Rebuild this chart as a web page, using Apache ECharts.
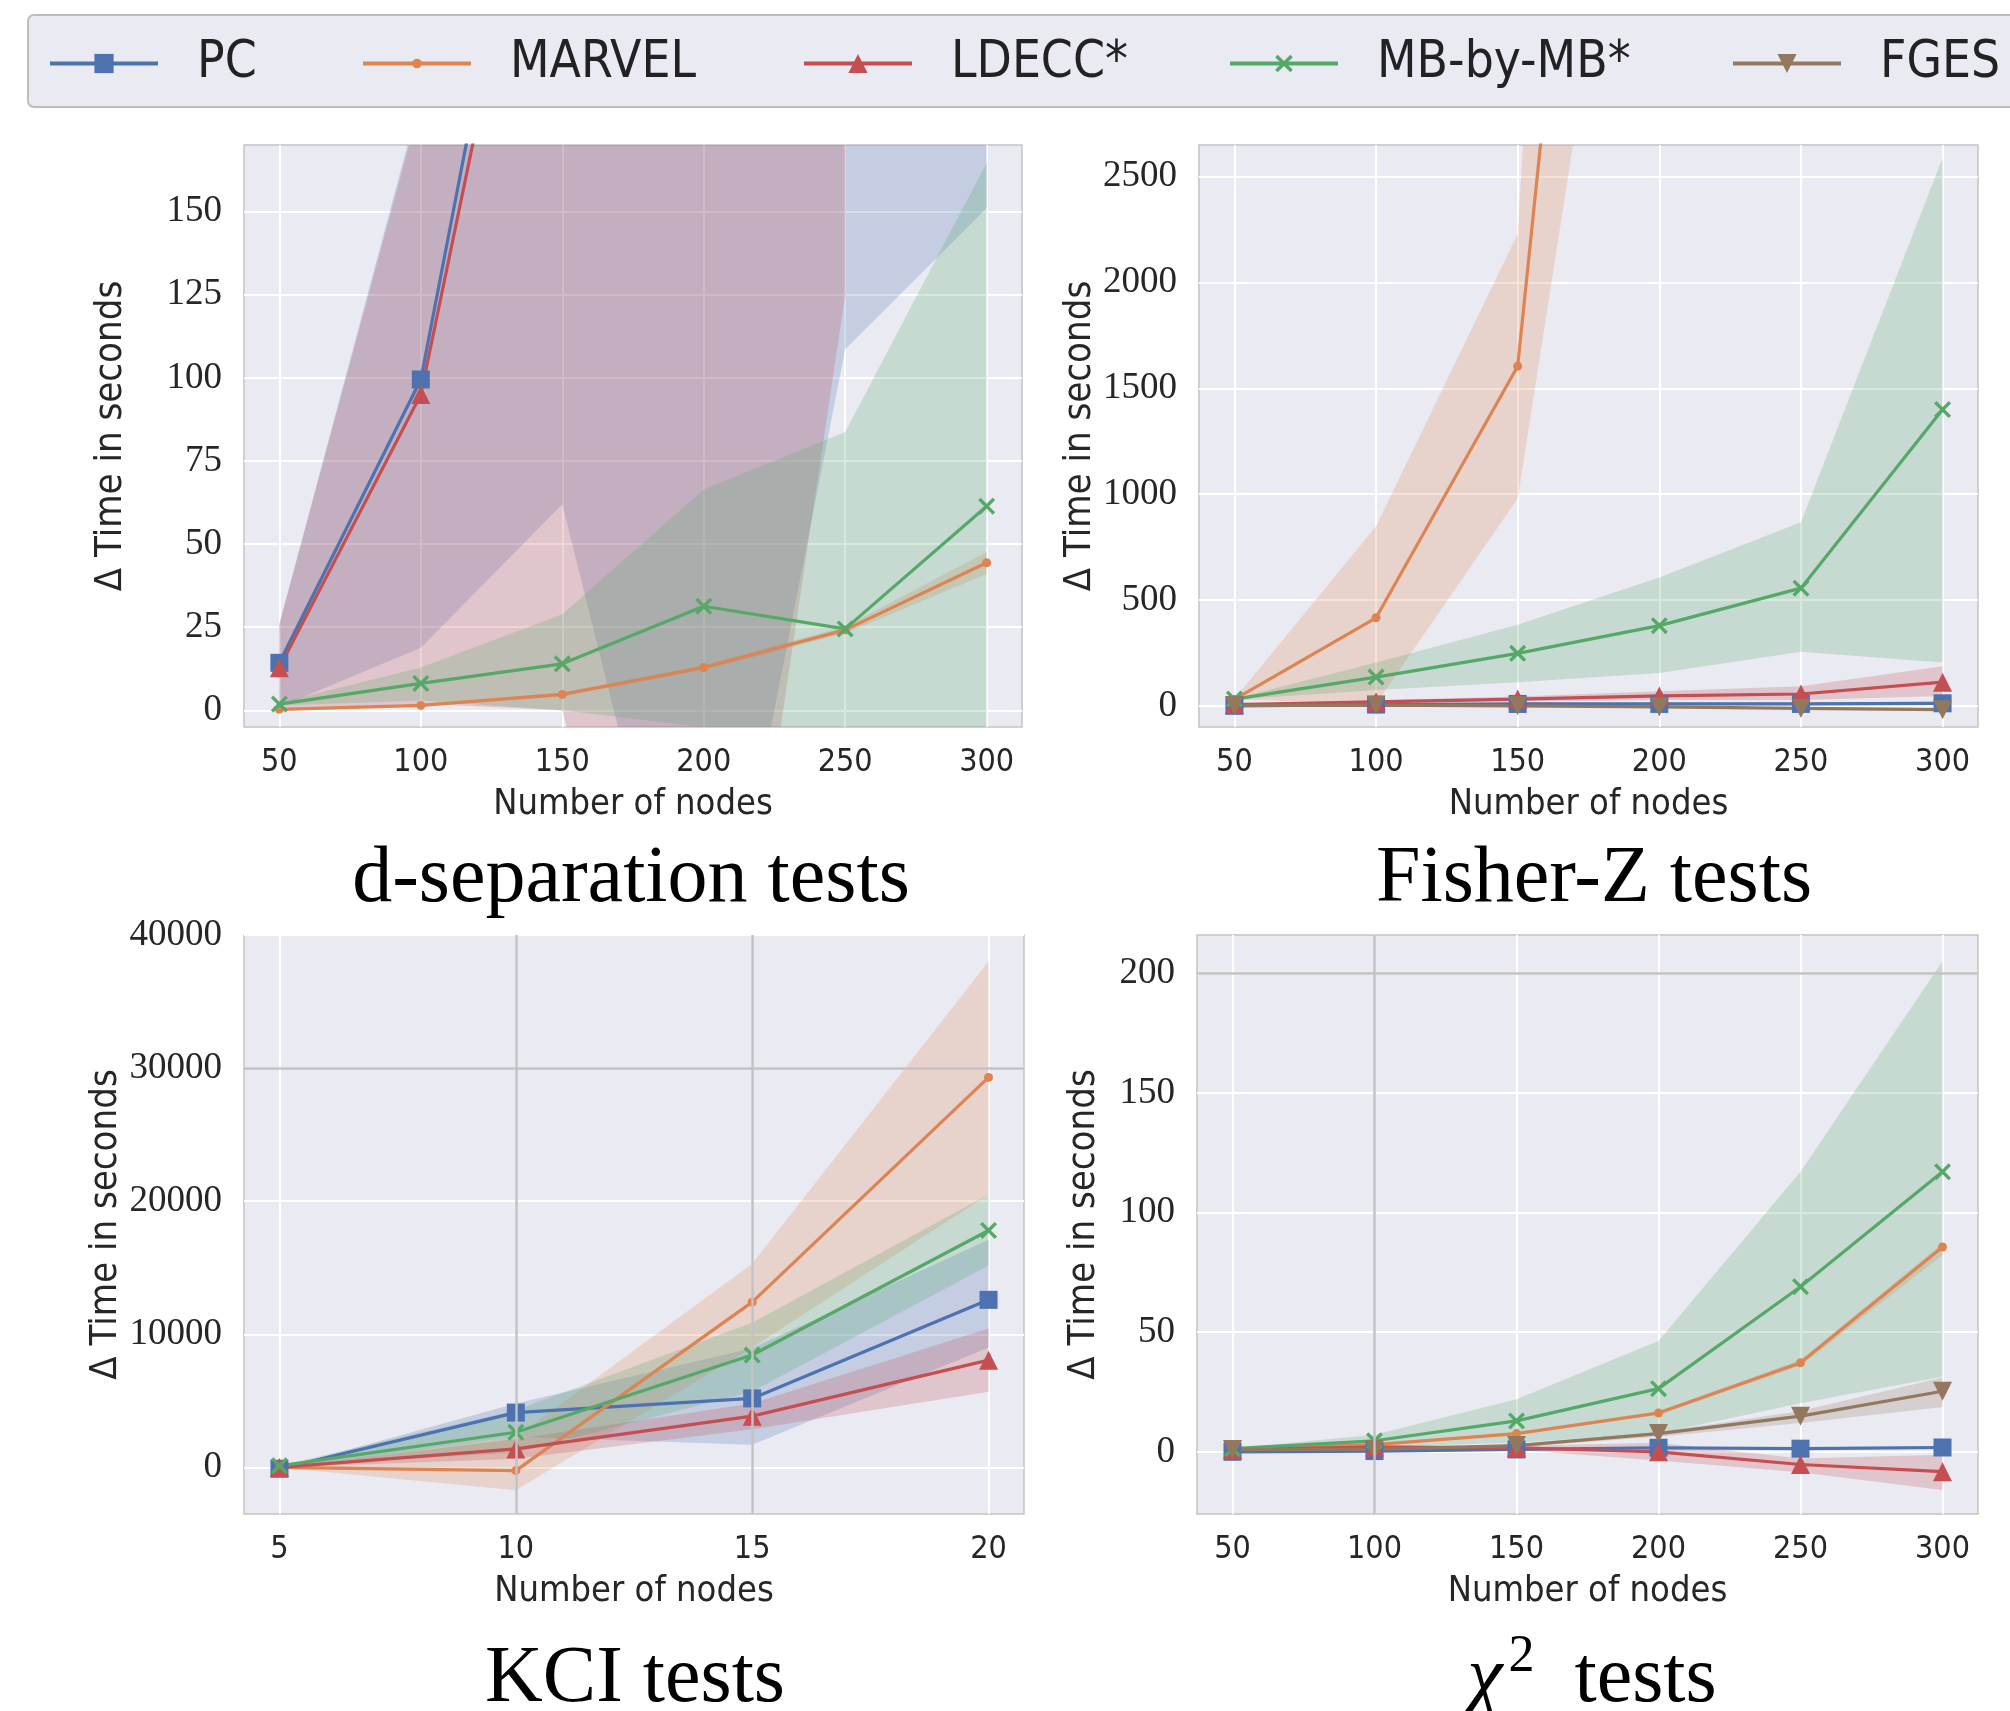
<!DOCTYPE html>
<html>
<head>
<meta charset="utf-8">
<script src="https://cdn.jsdelivr.net/npm/echarts@6/dist/echarts.min.js"></script>
<style>
  html, body { margin: 0; padding: 0; background: #fff; }
  #main { width: 2010px; height: 1711px; }
</style>
</head>
<body>
<div id="main"></div>
<script>
// x values
var nodes = [50, 100, 150, 200, 250, 300];
var nodesKCI = [5, 10, 15, 20];

// d-separation tests (mean, lower, upper)
var dsepPC = [14.3, 99.5, 320, 560, 800, 1100];
var dsepPCLo = [1, 18.8, 62, -108, 108.6, 151];
var dsepPCHi = [26, 185, 600, 1100, 1500, 2100];
var dsepMARVEL = [0.3, 1.5, 4.8, 12.9, 24.2, 44.4];
var dsepMARVELLo = [0.2, 1.2, 4.2, 12.2, 23.2, 41];
var dsepMARVELHi = [0.4, 1.8, 5.4, 13.6, 25.2, 47.6];
var dsepLDECC = [12.8, 95, 300, 520, 760, null];
var dsepLDECCLo = [0.5, 2, 0, -160, 125, null];
var dsepLDECCHi = [26, 183, 600, 1100, 1400, null];
var dsepMB = [1.9, 8.1, 14, 31.3, 24.5, 61.4];
var dsepMBLo = [1.5, 3, 0, -5, -20, -40];
var dsepMBHi = [2.3, 12.9, 28.9, 66.4, 83.7, 164.6];

// Fisher-Z tests
var fzPC = [0, 6, 9, 9, 9, 12];
var fzPCLo = [-3, 2, 4, 3, 2, 4];
var fzPCHi = [3, 10, 14, 15, 16, 20];
var fzMARVEL = [30, 416, 1605, 8100, null, null];
var fzMARVELLo = [30, 10, 980, 5260, null, null];
var fzMARVELHi = [32, 849, 2230, 13500, null, null];
var fzLDECC = [6, 19, 32, 47, 56, 112];
var fzLDECCLo = [4, 12, 20, 28, 28, 47];
var fzLDECCHi = [8, 26, 44, 69, 93, 187];
var fzMB = [32, 136, 248, 379, 556, 1400];
var fzMBLo = [30, 75, 112, 155, 256, 205];
var fzMBHi = [34, 205, 383, 606, 868, 2588];
var fzFGES = [2, 3, 0, -5, -12, -18];
var fzFGESLo = [0, 1, -3, -9, -17, -24];
var fzFGESHi = [4, 5, 3, -1, -7, -12];

// KCI tests
var kciPC = [-100, 4120, 5185, 12590];
var kciPCLo = [-100, 2300, 1700, 9000];
var kciPCHi = [-100, 4800, 8950, 17100];
var kciMARVEL = [0, -240, 12415, 29300];
var kciMARVELLo = [0, -1720, 9000, 20500];
var kciMARVELHi = [0, 2280, 15300, 38000];
var kciLDECC = [0, 1390, 3850, 8060];
var kciLDECCLo = [0, 650, 2870, 5690];
var kciLDECCHi = [0, 2130, 4800, 10430];
var kciMB = [120, 2640, 8445, 17800];
var kciMBLo = [120, 1100, 5700, 15170];
var kciMBHi = [120, 4300, 10870, 20500];

// chi-square tests
var chiPC = [0, 0.3, 1, 1.7, 1.3, 1.8];
var chiPCLo = [-0.3, 0, 0.6, 1.2, 0.8, 1.2];
var chiPCHi = [0.3, 0.6, 1.4, 2.2, 1.8, 2.4];
var chiMARVEL = [1, 3, 7.6, 16.2, 37.2, 85.6];
var chiMARVELLo = [0.8, 2.6, 7, 15.4, 36, 82.3];
var chiMARVELHi = [1.2, 3.4, 8.2, 17, 38.4, 87.2];
var chiLDECC = [1, 2, 1.7, 0, -5.3, -8.3];
var chiLDECCLo = [0.5, 1.2, 0.8, -3.6, -8.6, -16];
var chiLDECCHi = [1.5, 2.8, 2.5, 3.8, -2.8, -1.2];
var chiMB = [1.3, 4.6, 12.9, 26.4, 69, 117];
var chiMBLo = [1, 2, 3.8, 7.6, 20.3, 31.4];
var chiMBHi = [1.5, 7.1, 22, 46.3, 117, 205];
var chiFGES = [1, 1, 2.6, 7.6, 14.9, 25.3];
var chiFGESLo = [0.8, 0.8, 2, 6.3, 12, 18.7];
var chiFGESHi = [1.2, 1.2, 3.2, 8.3, 17, 31];

// tick labels
var ticksNodes = [50, 100, 150, 200, 250, 300];
var ticksKCI = [5, 10, 15, 20];
var ticksDsep = [0, 25, 50, 75, 100, 125, 150];
var ticksFz = [0, 500, 1000, 1500, 2000, 2500];
var ticksKciY = [0, 10000, 20000, 30000, 40000];
var ticksChi = [0, 50, 100, 150, 200];

// darker grey grid lines left over in the source figure
var greyKciX = [10, 15];
var greyKciY = [30000];
var greyChiX = [100];
var greyChiY = [200];

var names = ['PC', 'MARVEL', 'LDECC*', 'MB-by-MB*', 'FGES'];
var colors = {
    'PC': '#4C72B0',
    'MARVEL': '#DD8452',
    'LDECC*': '#C44E52',
    'MB-by-MB*': '#55A868',
    'FGES': '#937860'
};
var bandColors = {
    'PC': 'rgba(76,114,176,0.24)',
    'MARVEL': 'rgba(221,132,82,0.24)',
    'LDECC*': 'rgba(196,78,82,0.24)',
    'MB-by-MB*': 'rgba(85,168,104,0.24)',
    'FGES': 'rgba(147,120,96,0.24)'
};
var xPath = 'path://M0,1.4L1.4,0L5,3.6L8.6,0L10,1.4L6.4,5L10,8.6L8.6,10L5,6.4L1.4,10L0,8.6L3.6,5Z';
var symbols = {
    'PC': ['rect', 18, 0],
    'MARVEL': ['circle', 9, 0],
    'LDECC*': ['triangle', 19, 0],
    'MB-by-MB*': [xPath, 17, 0],
    'FGES': ['triangle', 19, 180]
};

var sansC = "'DejaVu Sans Condensed', 'Liberation Sans Narrow', 'DejaVu Sans', sans-serif";
var serif = "'Liberation Serif', 'DejaVu Serif', serif";

var panels = [
    {
        grid: { left: 244, top: 145, width: 778, height: 582 },
        xs: nodes, xMin: 37.5, xMax: 312.5, xTicks: ticksNodes,
        yMin: -5, yMax: 170, yTicks: ticksDsep, nameGap: 114,
        lines: {
            'PC': [dsepPC, dsepPCLo, dsepPCHi],
            'MARVEL': [dsepMARVEL, dsepMARVELLo, dsepMARVELHi],
            'LDECC*': [dsepLDECC, dsepLDECCLo, dsepLDECCHi],
            'MB-by-MB*': [dsepMB, dsepMBLo, dsepMBHi]
        }
    },
    {
        grid: { left: 1199, top: 145, width: 779, height: 582 },
        xs: nodes, xMin: 37.5, xMax: 312.5, xTicks: ticksNodes,
        yMin: -100, yMax: 2650, yTicks: ticksFz, nameGap: 96,
        lines: {
            'PC': [fzPC, fzPCLo, fzPCHi],
            'MARVEL': [fzMARVEL, fzMARVELLo, fzMARVELHi],
            'LDECC*': [fzLDECC, fzLDECCLo, fzLDECCHi],
            'MB-by-MB*': [fzMB, fzMBLo, fzMBHi],
            'FGES': [fzFGES, fzFGESLo, fzFGESHi]
        }
    },
    {
        grid: { left: 244, top: 935, width: 780, height: 579 },
        xs: nodesKCI, xMin: 4.25, xMax: 20.75, xTicks: ticksKCI,
        yMin: -3500, yMax: 40000, yTicks: ticksKciY, nameGap: 118,
        greyX: greyKciX, greyY: greyKciY,
        lines: {
            'PC': [kciPC, kciPCLo, kciPCHi],
            'MARVEL': [kciMARVEL, kciMARVELLo, kciMARVELHi],
            'LDECC*': [kciLDECC, kciLDECCLo, kciLDECCHi],
            'MB-by-MB*': [kciMB, kciMBLo, kciMBHi]
        }
    },
    {
        grid: { left: 1197, top: 935, width: 781, height: 579 },
        xs: nodes, xMin: 37.5, xMax: 312.5, xTicks: ticksNodes,
        yMin: -26, yMax: 216, yTicks: ticksChi, nameGap: 94,
        greyX: greyChiX, greyY: greyChiY,
        lines: {
            'PC': [chiPC, chiPCLo, chiPCHi],
            'MARVEL': [chiMARVEL, chiMARVELLo, chiMARVELHi],
            'LDECC*': [chiLDECC, chiLDECCLo, chiLDECCHi],
            'MB-by-MB*': [chiMB, chiMBLo, chiMBHi],
            'FGES': [chiFGES, chiFGESLo, chiFGESHi]
        }
    }
];

function bandSeries(idx, xs, lo, hi, color) {
    return {
        type: 'custom',
        xAxisIndex: idx,
        yAxisIndex: idx,
        z: 2,
        silent: true,
        clip: true,
        data: [[xs[0], lo[0]]],
        renderItem: function (params, api) {
            var up = [], down = [];
            for (var i = 0; i < xs.length; i++) {
                if (lo[i] == null || hi[i] == null) continue;
                up.push(api.coord([xs[i], hi[i]]));
                down.unshift(api.coord([xs[i], lo[i]]));
            }
            var cs = params.coordSys;
            return {
                type: 'group',
                clipPath: { type: 'rect', shape: { x: cs.x, y: cs.y, width: cs.width, height: cs.height } },
                children: [{
                    type: 'polygon',
                    shape: { points: up.concat(down) },
                    style: { fill: color, stroke: null }
                }]
            };
        }
    };
}

function plain(v) { return String(v); }

var grids = [], xAxes = [], yAxes = [], series = [];
panels.forEach(function (p, idx) {
    grids.push({
        left: p.grid.left, top: p.grid.top, width: p.grid.width, height: p.grid.height,
        show: true, backgroundColor: '#EAEAF2', borderColor: '#c4c4c4', borderWidth: 1.5
    });
    xAxes.push({
        type: 'value', gridIndex: idx, min: p.xMin, max: p.xMax,
        name: 'Number of nodes', nameLocation: 'middle', nameGap: 60,
        nameTextStyle: { fontFamily: sansC, fontSize: 36, color: '#262626' },
        axisLine: { show: false },
        axisTick: { show: false, customValues: p.xTicks },
        axisLabel: { customValues: p.xTicks, formatter: plain, margin: 20, fontFamily: sansC, fontSize: 32, color: '#262626' },
        splitLine: { show: true, lineStyle: { color: '#ffffff', width: 2 } }
    });
    yAxes.push({
        type: 'value', gridIndex: idx, min: p.yMin, max: p.yMax,
        name: '\u0394 Time in seconds', nameLocation: 'middle', nameGap: p.nameGap,
        nameTextStyle: { fontFamily: sansC, fontSize: 38, color: '#262626' },
        axisLine: { show: false },
        axisTick: { show: false, customValues: p.yTicks },
        axisLabel: { customValues: p.yTicks, formatter: plain, margin: 22, fontFamily: serif, fontSize: 37, color: '#262626' },
        splitLine: { show: true, lineStyle: { color: '#ffffff', width: 2 } }
    });
    if (p.greyX) {
        var marks = [];
        p.greyX.forEach(function (v) { marks.push({ xAxis: v }); });
        p.greyY.forEach(function (v) { marks.push({ yAxis: v }); });
        series.push({
            type: 'line', xAxisIndex: idx, yAxisIndex: idx, z: 1, silent: true,
            data: [],
            markLine: {
                silent: true, symbol: ['none', 'none'], label: { show: false },
                lineStyle: { color: '#c2c2c2', width: 2.5, type: 'solid' },
                data: marks
            }
        });
    }
    names.forEach(function (name) {
        var d = p.lines[name];
        if (!d) return;
        series.push(bandSeries(idx, p.xs, d[1], d[2], bandColors[name]));
    });
    names.forEach(function (name) {
        var d = p.lines[name];
        if (!d) return;
        var sym = symbols[name];
        series.push({
            type: 'line', name: name,
            xAxisIndex: idx, yAxisIndex: idx,
            data: p.xs.map(function (x, i) { return [x, d[0][i] == null ? '-' : d[0][i]]; }),
            symbol: sym[0], symbolSize: sym[1], symbolRotate: sym[2],
            showAllSymbol: true,
            clip: true,
            z: 3,
            lineStyle: { color: colors[name], width: 3.2 },
            itemStyle: { color: colors[name] }
        });
    });
});

var legendLeft = [48, 361, 802, 1228, 1731];
var legendMark = [24, 12, 24, 22, 24];
var legends = names.map(function (name, i) {
    return {
        data: [name],
        left: legendLeft[i] - 5,
        top: 33,
        itemWidth: 108,
        itemHeight: legendMark[i],
        selectedMode: false,
        lineStyle: { width: 4 },
        textStyle: { fontFamily: sansC, fontSize: 51, color: '#222', padding: [0, 0, 0, 34] }
    };
});

var titleFont = "80px 'Liberation Serif', 'DejaVu Serif', serif";
var titles = [
    { x: 631, y: 880, text: 'd-separation tests' },
    { x: 1594, y: 880, text: 'Fisher-Z tests' },
    { x: 635, y: 1680, text: 'KCI tests' }
];

var graphics = [{
    type: 'rect', z: 0,
    shape: { x: 28, y: 15, width: 2010, height: 92, r: 6 },
    style: { fill: '#EAEAF2', stroke: '#bdbdbd', lineWidth: 2 }
}];
titles.forEach(function (t) {
    graphics.push({
        type: 'text', x: t.x, y: t.y,
        style: { text: t.text, font: titleFont, fill: '#000', align: 'center', verticalAlign: 'middle' }
    });
});
graphics.push({
    type: 'text', x: 1592, y: 1680,
    style: {
        text: '{chi|\u03c7}{sup|2}{t|  tests}',
        align: 'center', verticalAlign: 'middle',
        rich: {
            chi: { font: "italic 80px 'Liberation Serif', 'DejaVu Serif', serif", fill: '#000' },
            sup: { font: "52px 'Liberation Serif', 'DejaVu Serif', serif", fill: '#000', padding: [0, 0, 46, 6] },
            t: { font: titleFont, fill: '#000' }
        }
    }
});

var myChart = echarts.init(document.getElementById('main'));
myChart.setOption({
    animation: false,
    backgroundColor: '#ffffff',
    legend: legends,
    grid: grids,
    xAxis: xAxes,
    yAxis: yAxes,
    series: series,
    graphic: graphics
});
</script>
</body>
</html>
